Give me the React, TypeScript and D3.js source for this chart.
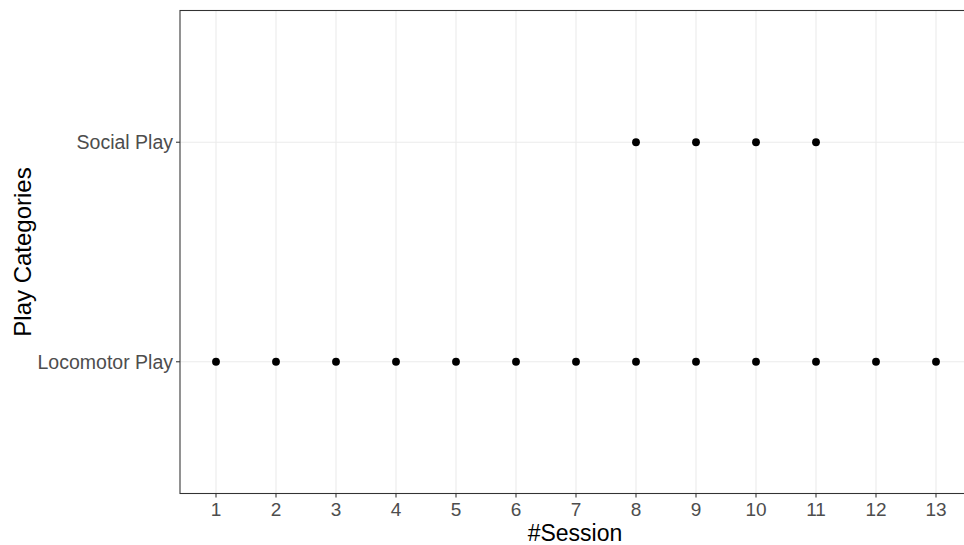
import React from "react";
import * as d3 from "d3";

const categories = ["Locomotor Play", "Social Play"];
const locomotorSessions = [1, 2, 3, 4, 5, 6, 7, 8, 9, 10, 11, 12, 13];
const socialSessions = [8, 9, 10, 11];
const xTicks = [1, 2, 3, 4, 5, 6, 7, 8, 9, 10, 11, 12, 13];

const W = 964, H = 545;
const panel = { left: 180, right: 972, top: 10.5, bottom: 493.5 };

export default function App() {
  const x = d3.scaleLinear().domain([0.4, 13.6]).range([panel.left, panel.right]);
  const y = d3.scaleLinear().domain([0.4, 2.6]).range([panel.bottom, panel.top]);
  const catY = (c: string) => y(categories.indexOf(c) + 1);
  const points = [
    ...locomotorSessions.map((s) => ({ s, c: "Locomotor Play" })),
    ...socialSessions.map((s) => ({ s, c: "Social Play" })),
  ];
  const font = "'Liberation Sans', Arial, sans-serif";
  return (
    <svg width={W} height={H} style={{ position: "absolute", left: 0, top: 0, background: "#fff" }}>
      <rect x={0} y={0} width={W} height={H} fill="#fff" />
      {xTicks.map((t) => (
        <line key={"gx" + t} x1={x(t)} x2={x(t)} y1={panel.top} y2={panel.bottom} stroke="#ebebeb" strokeWidth={1.07} />
      ))}
      {categories.map((c) => (
        <line key={"gy" + c} x1={panel.left} x2={panel.right} y1={catY(c)} y2={catY(c)} stroke="#ebebeb" strokeWidth={1.07} />
      ))}
      {points.map((p, i) => (
        <circle key={i} cx={x(p.s)} cy={catY(p.c)} r={3.9} fill="#000" />
      ))}
      <rect x={panel.left} y={panel.top} width={panel.right - panel.left} height={panel.bottom - panel.top} fill="none" stroke="#333" strokeWidth={1.07} />
      {xTicks.map((t) => (
        <g key={"tx" + t}>
          <line x1={x(t)} x2={x(t)} y1={panel.bottom} y2={panel.bottom + 4} stroke="#333" strokeWidth={1.07} />
          <text x={x(t)} y={516} textAnchor="middle" fontFamily={font} fontSize={19} fill="#4d4d4d">{t}</text>
        </g>
      ))}
      {categories.map((c) => (
        <g key={"ty" + c}>
          <line x1={panel.left - 4} x2={panel.left} y1={catY(c)} y2={catY(c)} stroke="#333" strokeWidth={1.07} />
          <text x={panel.left - 7} y={catY(c)} dy="0.35em" textAnchor="end" fontFamily={font} fontSize={19.5} fill="#4d4d4d">{c}</text>
        </g>
      ))}
      <text x={575} y={541} textAnchor="middle" fontFamily={font} fontSize={23} fill="#000">#Session</text>
      <text transform={`translate(31, ${(panel.top + panel.bottom) / 2}) rotate(-90)`} textAnchor="middle" fontFamily={font} fontSize={24} fill="#000">Play Categories</text>
    </svg>
  );
}
